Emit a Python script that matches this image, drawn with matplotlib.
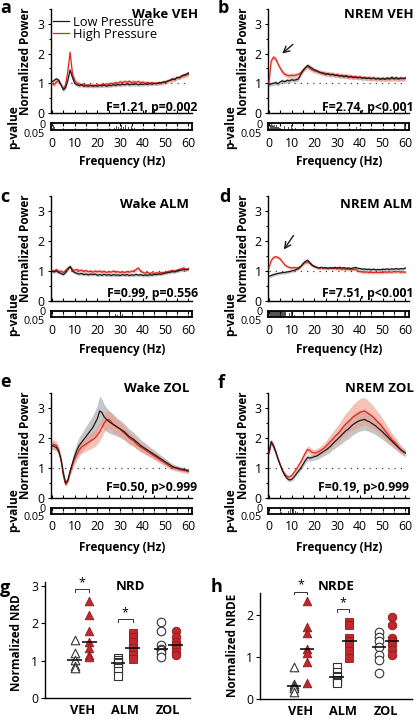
import numpy as np
import matplotlib
matplotlib.use("Agg")
import matplotlib.pyplot as plt

plt.rcParams['font.family'] = ['Open Sans', 'DejaVu Sans']

# ---------------- data ----------------
freq = list(range(61))

wake_veh_low = [1.05,1.10,1.15,1.10,0.95,0.78,0.85,1.10,1.45,1.20,1.00,0.95,0.92,0.95,0.90,0.92,0.90,0.93,0.90,0.92,
                0.90,0.93,0.91,0.94,0.90,0.93,0.92,0.95,0.93,0.96,0.94,0.97,0.95,0.98,0.95,0.97,0.96,0.98,0.95,0.97,
                0.96,0.98,0.96,0.99,0.97,1.00,0.98,1.02,1.00,1.05,1.03,1.08,1.10,1.15,1.12,1.20,1.18,1.25,1.28,1.30,1.35]
wake_veh_high = [1.00,0.95,1.05,1.08,0.95,0.82,0.95,1.40,2.05,1.35,1.10,1.00,0.98,0.95,0.97,0.93,0.95,0.92,0.94,0.92,
                 0.95,0.93,0.96,0.95,0.98,0.96,1.00,0.98,1.02,1.00,1.05,1.02,1.06,1.03,1.07,1.02,1.05,1.03,1.06,1.02,
                 1.04,1.00,1.03,1.00,1.02,0.99,1.01,1.00,1.02,1.03,1.05,1.08,1.10,1.12,1.15,1.18,1.20,1.22,1.25,1.27,1.30]
nrem_veh_low = [0.95,0.98,1.00,1.02,0.98,1.05,1.08,1.05,1.10,1.08,1.12,1.10,1.12,1.15,1.30,1.42,1.52,1.60,1.55,1.50,
                1.45,1.42,1.38,1.35,1.33,1.30,1.32,1.28,1.30,1.26,1.27,1.24,1.25,1.22,1.24,1.20,1.22,1.19,1.21,1.18,
                1.20,1.17,1.19,1.16,1.18,1.15,1.18,1.14,1.17,1.13,1.17,1.14,1.18,1.15,1.20,1.16,1.19,1.15,1.18,1.16,1.18]
nrem_veh_high = [1.00,1.75,1.88,1.82,1.65,1.50,1.38,1.30,1.27,1.25,1.27,1.26,1.28,1.30,1.35,1.45,1.52,1.57,1.50,1.45,
                 1.42,1.40,1.38,1.36,1.35,1.33,1.32,1.30,1.31,1.28,1.29,1.26,1.27,1.25,1.26,1.23,1.24,1.21,1.22,1.20,
                 1.21,1.18,1.19,1.17,1.18,1.16,1.17,1.15,1.16,1.14,1.15,1.13,1.15,1.14,1.16,1.14,1.15,1.14,1.16,1.15,1.16]
wake_alm_low = [1.00,0.97,1.00,0.95,0.92,0.88,0.95,1.05,1.15,1.00,0.95,0.92,0.90,0.92,0.88,0.90,0.87,0.90,0.88,0.90,
                0.86,0.88,0.86,0.89,0.86,0.88,0.85,0.88,0.86,0.87,0.85,0.88,0.86,0.88,0.85,0.87,0.86,0.89,0.86,0.88,
                0.85,0.87,0.85,0.88,0.86,0.89,0.88,0.90,0.89,0.92,0.93,0.95,0.96,0.98,0.97,1.00,1.02,1.03,1.05,1.04,1.06]
wake_alm_high = [1.02,1.00,1.05,0.98,1.00,0.95,1.02,1.10,1.15,1.05,1.02,1.05,1.00,1.03,0.98,1.02,0.97,1.00,0.96,1.00,
                 0.97,1.00,0.96,0.99,0.95,0.98,0.96,1.00,0.96,0.98,0.95,0.97,0.95,0.98,0.96,0.99,1.00,1.05,1.10,1.00,
                 0.95,0.93,0.95,0.92,0.94,0.92,0.94,0.93,0.95,0.94,0.96,0.98,1.00,1.02,1.00,1.03,1.05,1.08,1.10,1.05,1.08]
nrem_alm_low = [0.82,0.85,0.88,0.90,0.92,0.93,0.95,0.95,0.97,0.98,1.00,1.02,1.05,1.08,1.15,1.25,1.32,1.36,1.28,1.20,
                1.15,1.12,1.10,1.12,1.10,1.11,1.09,1.11,1.10,1.12,1.10,1.12,1.10,1.11,1.09,1.10,1.08,1.10,1.12,1.09,
                1.08,1.06,1.07,1.05,1.06,1.04,1.06,1.04,1.05,1.04,1.06,1.05,1.07,1.05,1.07,1.06,1.08,1.06,1.08,1.07,1.10]
nrem_alm_high = [1.10,1.35,1.45,1.48,1.45,1.40,1.30,1.20,1.15,1.12,1.10,1.12,1.10,1.12,1.15,1.22,1.28,1.30,1.25,1.18,
                 1.15,1.12,1.10,1.11,1.09,1.10,1.08,1.10,1.08,1.09,1.07,1.08,1.06,1.07,1.05,1.06,1.04,1.05,1.06,1.00,
                 0.98,0.97,0.96,0.97,0.95,0.96,0.95,0.96,0.95,0.96,0.95,0.97,0.96,0.97,0.96,0.98,0.97,0.98,0.96,0.97,0.96]
wake_zol_low = [1.75,1.72,1.68,1.55,1.30,0.85,0.50,0.60,0.90,1.15,1.40,1.60,1.75,1.85,1.95,2.05,2.15,2.25,2.35,2.50,
                2.65,2.90,2.85,2.70,2.62,2.55,2.50,2.45,2.40,2.35,2.30,2.25,2.20,2.12,2.05,2.00,1.95,1.88,1.82,1.75,
                1.70,1.65,1.60,1.55,1.50,1.45,1.40,1.35,1.30,1.25,1.20,1.15,1.10,1.05,1.02,1.00,0.98,0.96,0.95,0.93,0.92]
wake_zol_high = [1.80,1.78,1.75,1.60,1.25,0.75,0.45,0.55,0.85,1.10,1.30,1.45,1.60,1.70,1.75,1.80,1.85,1.90,1.95,2.00,
                 2.10,2.20,2.35,2.50,2.60,2.62,2.55,2.45,2.40,2.35,2.30,2.22,2.15,2.08,2.00,1.95,1.90,1.82,1.75,1.70,
                 1.65,1.60,1.55,1.50,1.45,1.40,1.35,1.30,1.25,1.20,1.15,1.10,1.05,1.02,1.00,0.98,0.95,0.93,0.92,0.90,0.88]
nrem_zol_low = [1.50,1.88,1.75,1.55,1.30,1.10,0.90,0.75,0.65,0.60,0.62,0.70,0.80,0.90,1.00,1.12,1.25,1.35,1.33,1.35,
                1.38,1.40,1.45,1.50,1.55,1.60,1.65,1.72,1.80,1.88,1.95,2.02,2.10,2.18,2.25,2.30,2.38,2.45,2.50,2.55,
                2.58,2.60,2.62,2.58,2.55,2.50,2.45,2.40,2.33,2.27,2.20,2.12,2.05,1.97,1.90,1.82,1.75,1.68,1.60,1.55,1.50]
nrem_zol_high = [1.50,1.85,1.72,1.52,1.30,1.10,0.92,0.80,0.72,0.70,0.75,0.85,0.95,1.08,1.20,1.35,1.50,1.62,1.58,1.52,
                 1.50,1.52,1.55,1.60,1.65,1.72,1.80,1.88,1.96,2.05,2.12,2.20,2.30,2.40,2.48,2.55,2.62,2.70,2.75,2.80,
                 2.85,2.88,2.90,2.85,2.80,2.75,2.68,2.60,2.52,2.45,2.35,2.25,2.15,2.05,1.95,1.88,1.80,1.70,1.62,1.55,1.50]

# SEM (scalar where the band is uniform)
sem_wake_veh = (0.06, 0.07)
sem_nrem_veh = (0.07, 0.08)
sem_wake_alm = (0.05, 0.06)
sem_nrem_alm = (0.05, 0.05)
sem_wake_zol_low = [0.12,0.12,0.12,0.12,0.12,0.10,0.08,0.08,0.12,0.18,0.22,0.25,0.28,0.30,0.32,
                    0.34,0.36,0.38,0.40,0.42,0.45,0.50,0.45,0.42,0.40,0.38,
                    0.36,0.34,0.32,0.30,0.29,0.28,0.27,0.26,0.25,0.24,0.23,0.22,0.21,0.20,0.19,
                    0.18,0.17,0.16,0.15,0.15,0.14,0.13,0.12,0.12,0.11,0.10,0.10,0.09,0.09,0.08,0.08,0.08,0.07,0.07,0.07]
sem_wake_zol_high = [0.15,0.15,0.15,0.14,0.12,0.10,0.08,0.08,0.10,0.14,0.16,0.18,0.20,0.22,0.22,
                     0.24,0.25,0.26,0.27,0.28,0.30,0.30,0.30,0.30,0.30,0.30,
                     0.28,0.27,0.26,0.25,0.24,0.23,0.22,0.21,0.20,0.19,0.18,0.17,0.16,0.16,0.15,
                     0.15,0.14,0.14,0.13,0.13,0.12,0.12,0.11,0.11,0.10,0.10,0.10,0.09,0.09,0.09,0.08,0.08,0.08,0.08,0.08]
sem_nrem_zol_low = [0.08,0.10,0.10,0.08,0.07,0.06,0.06,0.06,0.06,0.06,0.06,0.07,0.07,0.08,0.08,
                    0.09,0.10,0.10,0.10,0.10,0.11,0.12,0.13,0.14,0.15,0.16,0.17,0.18,0.20,0.22,
                    0.24,0.26,0.28,0.30,0.31,0.32,0.33,0.34,0.35,0.35,0.35,0.35,0.35,0.34,0.33,
                    0.32,0.30,0.29,0.28,0.26,0.25,0.23,0.22,0.20,0.18,0.17,0.15,0.14,0.13,0.12,0.11]
sem_nrem_zol_high = [0.10,0.10,0.10,0.08,0.07,0.06,0.06,0.06,0.06,0.06,0.07,0.07,0.08,0.08,0.09,
                     0.10,0.11,0.12,0.12,0.12,0.12,0.13,0.14,0.15,0.16,0.18,0.20,0.22,0.24,0.26,
                     0.28,0.30,0.32,0.34,0.36,0.38,0.40,0.42,0.44,0.45,0.46,0.46,0.45,0.44,0.42,
                     0.40,0.38,0.36,0.34,0.32,0.30,0.28,0.26,0.24,0.22,0.20,0.18,0.16,0.14,0.13,0.12]

# p-value strips (frequency, p) for significant bins
p_wake_veh_f = [0.8, 1.2, 27.5, 28.5, 29.2, 30.5, 31.5, 32.3, 33.5, 35.0, 36.2, 54.5]
p_wake_veh_p = [0.010, 0.030, 0.035, 0.020, 0.030, 0.010, 0.025, 0.015, 0.030, 0.020, 0.035, 0.040]
p_nrem_veh_f = [0.5, 1.0, 1.5, 2.0, 2.5, 3.0, 3.5, 4.0, 4.5, 7.0, 8.5, 10.0, 11.5, 38.5, 55.0, 59.5, 60.0]
p_nrem_veh_p = [0.015, 0.005, 0.010, 0.020, 0.008, 0.030, 0.015, 0.025, 0.035, 0.020, 0.030, 0.010, 0.035, 0.030, 0.040, 0.002, 0.002]
p_wake_alm_f = [24.5, 25.5, 26.5, 28.0, 29.0, 30.0, 31.0, 32.5, 34.0]
p_wake_alm_p = [0.040, 0.030, 0.035, 0.020, 0.030, 0.015, 0.025, 0.035, 0.040]
p_nrem_alm_f = [0.0, 0.5, 1.0, 1.5, 2.0, 2.5, 3.0, 3.5, 4.0, 4.5, 5.0, 5.5, 6.0, 6.5, 7.0, 7.5,
                9.0, 9.8, 10.5, 11.3, 39.0, 47.5, 49.0, 50.5, 59.5, 60.0]
p_nrem_alm_p = [0.002, 0.001, 0.001, 0.001, 0.001, 0.001, 0.001, 0.001, 0.001, 0.001, 0.001, 0.001, 0.002, 0.003, 0.004, 0.010,
                0.015, 0.010, 0.020, 0.030, 0.010, 0.040, 0.035, 0.040, 0.002, 0.002]
p_wake_zol_f = []
p_wake_zol_p = []
p_nrem_zol_f = [5.6, 8.8, 9.5, 10.2, 11.0, 11.8, 12.6]
p_nrem_zol_p = [0.040, 0.030, 0.015, 0.025, 0.010, 0.030, 0.040]

titles = ["Wake VEH", "NREM VEH", "Wake ALM", "NREM ALM", "Wake ZOL", "NREM ZOL"]
stats = ["F=1.21, p=0.002", "F=2.74, p<0.001", "F=0.99, p=0.556",
         "F=7.51, p<0.001", "F=0.50, p>0.999", "F=0.19, p>0.999"]
letters = ["a", "b", "c", "d", "e", "f"]

# Scatter panels
groups = ["VEH", "ALM", "ZOL"]
markers = ["^", "s", "o"]
nrd_low = [[1.54, 1.20, 1.02, 0.85, 0.80],
           [1.07, 1.02, 0.95, 0.93, 0.80, 0.71, 0.58],
           [2.04, 1.78, 1.42, 1.32, 1.29, 1.20, 1.10]]
nrd_high = [[2.60, 2.22, 1.78, 1.50, 1.33, 1.15, 1.10],
            [1.73, 1.64, 1.50, 1.33, 1.24, 1.15, 1.05],
            [1.80, 1.64, 1.50, 1.41, 1.33, 1.24, 1.15]]
nrde_low = [[0.75, 0.35, 0.32, 0.25, 0.17],
            [0.77, 0.65, 0.55, 0.52, 0.45, 0.40, 0.37],
            [1.60, 1.48, 1.37, 1.24, 1.05, 0.93, 0.61]]
nrde_high = [[2.32, 1.72, 1.56, 1.20, 1.09, 0.89, 0.37],
             [1.84, 1.76, 1.44, 1.37, 1.29, 1.13, 0.97],
             [1.96, 1.76, 1.44, 1.38, 1.29, 1.17, 1.05]]
nrd_sig = [2.90, 2.10, None]
nrde_sig = [2.55, 2.13, None]

# ---------------- layout ----------------
W, H = 417, 719
fig = plt.figure(figsize=(W / 100, H / 100), dpi=100)

def rect(l, t, r, b):
    return [l / W, 1 - b / H, (r - l) / W, (b - t) / H]

def fx(px):
    return px / W

def fy(py):
    return 1 - py / H

BLACK = '#1a1a1a'
RED = '#e0261d'
TICK = 8.8
STRIPLAB = 7.8

rows = [(9, 113, 123.5, 130, 143, 162, 14, 107),
        (196, 301, 311, 317.5, 329, 349, 204, 293),
        (393, 498, 507.5, 513.5, 526, 547, 388, 488)]
cols = [(51, 192), (268, 409)]
title_right = [[198, 414], [189, 413], [189, 414]]
stats_right = [[197, 414], [198, 413], [197, 409]]
letter_pos = [[(0, 8), (218, 8)], [(0, 197), (219, 197)], [(0, 382), (218, 383)]]

series = [(wake_veh_low, wake_veh_high, sem_wake_veh[0], sem_wake_veh[1], p_wake_veh_f, p_wake_veh_p),
          (nrem_veh_low, nrem_veh_high, sem_nrem_veh[0], sem_nrem_veh[1], p_nrem_veh_f, p_nrem_veh_p),
          (wake_alm_low, wake_alm_high, sem_wake_alm[0], sem_wake_alm[1], p_wake_alm_f, p_wake_alm_p),
          (nrem_alm_low, nrem_alm_high, sem_nrem_alm[0], sem_nrem_alm[1], p_nrem_alm_f, p_nrem_alm_p),
          (wake_zol_low, wake_zol_high, sem_wake_zol_low, sem_wake_zol_high, p_wake_zol_f, p_wake_zol_p),
          (nrem_zol_low, nrem_zol_high, sem_nrem_zol_low, sem_nrem_zol_high, p_nrem_zol_f, p_nrem_zol_p)]

f_arr = np.array(freq)
for i, (low, high, sl, sh, pf, pp) in enumerate(series):
    r, c = divmod(i, 2)
    st, sb, pt, pb, tly, xly, tty, sty = rows[r]
    cl, cr = cols[c]
    low = np.array(low); high = np.array(high)
    sl = np.array(sl); sh = np.array(sh)

    ax = fig.add_axes(rect(cl, st, cr, sb))
    ax.fill_between(f_arr, low - sl, low + sl, color='#a8a8a8', alpha=0.65, lw=0, zorder=1)
    ax.fill_between(f_arr, high - sh, high + sh, color='#f19a88', alpha=0.6, lw=0, zorder=1)
    ax.hlines(1, f_arr[0], f_arr[-1], colors='#444444', linestyles=(0, (1, 4)), lw=0.9, zorder=2)
    lh, = ax.plot(f_arr, high, color=RED, lw=0.9, zorder=3)
    ll, = ax.plot(f_arr, low, color=BLACK, lw=0.9, zorder=4)
    ax.set_xlim(-0.4, 61.6)
    ax.set_ylim(0, 3.5)
    for s in ['top', 'right']:
        ax.spines[s].set_visible(False)
    for s in ['left', 'bottom']:
        ax.spines[s].set_linewidth(1.0)
    ax.set_yticks([0, 1, 2, 3])
    ax.set_yticks([0.5, 1.5, 2.5, 3.5], minor=True)
    ax.set_xticks(np.arange(0, 61, 5))
    ax.set_xticklabels([])
    ax.tick_params(axis='x', direction='in', length=2, width=0.8)
    ax.tick_params(axis='y', which='major', direction='out', length=2.5, width=0.8, labelsize=TICK, pad=2)
    ax.tick_params(axis='y', which='minor', direction='out', length=1.5, width=0.8)

    if i == 0:
        ax.legend([ll, lh], ["Low Pressure", "High Pressure"], loc='upper left',
                  bbox_to_anchor=(fx(53), fy(16)), bbox_transform=fig.transFigure,
                  frameon=False, fontsize=9.3, handlelength=1.2, handletextpad=0.35,
                  labelspacing=-0.1, borderpad=0, borderaxespad=0)
    if i == 1:
        ax.annotate('', xy=(4.9, 1.94), xytext=(11.5, 2.37),
                    arrowprops=dict(arrowstyle='->', lw=1.0, color=BLACK, mutation_scale=11))
    if i == 3:
        ax.annotate('', xy=(5.9, 1.64), xytext=(11.5, 2.26),
                    arrowprops=dict(arrowstyle='->', lw=1.0, color=BLACK, mutation_scale=11))

    # p-value strip
    sx = fig.add_axes(rect(cl, pt, cr, pb))
    if len(pf):
        pfa = np.array(pf); ppa = np.array(pp)
        sx.bar(pfa, 0.05 - ppa, bottom=ppa, width=0.45, color='#555555', lw=0)
    sx.set_xlim(-0.4, 61.6)
    sx.set_ylim(0.05, 0)
    for s in sx.spines.values():
        s.set_linewidth(1.3)
    sx.set_yticks([])
    sx.set_xticks(np.arange(0, 61, 10))
    sx.set_xticks(np.arange(0, 61, 5), minor=True)
    sx.tick_params(axis='x', which='both', direction='in', length=1.8, width=0.8,
                   top=True, labelsize=TICK, pad=5)
    sx.set_xticklabels([str(v) for v in range(0, 61, 10)])

    fig.text(fx(cl - 5), fy(pt + 1.5), "0", ha='right', va='center', fontsize=STRIPLAB)
    fig.text(fx(cl - 6), fy(pb + 4.5), "0.05", ha='right', va='center', fontsize=STRIPLAB)

    fig.text(fx((cl + cr) / 2 + 1), fy(xly), "Frequency (Hz)", ha='center', va='center',
             fontsize=8.5, fontweight='bold')
    fig.text(fx(cl - 25), fy((st + sb) / 2), "Normalized Power", ha='center', va='center',
             rotation=90, fontsize=8.5, fontweight='bold')
    fig.text(fx(cl - 37), fy((pt + pb) / 2), "p-value", ha='center', va='center',
             rotation=90, fontsize=8.6, fontweight='bold')
    fig.text(fx(title_right[r][c]), fy(tty), titles[i], ha='right', va='center',
             fontsize=9.5, fontweight='bold')
    fig.text(fx(stats_right[r][c]), fy(sty), stats[i], ha='right', va='center',
             fontsize=8.8, fontweight='bold')
    lx, ly = letter_pos[r][c]
    fig.text(fx(lx), fy(ly), letters[i], ha='left', va='center', fontsize=13, fontweight='bold')

# ---------------- scatter panels ----------------
g = fig.add_axes(rect(45, 582, 190, 698))
h = fig.add_axes(rect(260, 593, 412, 699))
for ax, low, high, sig, ylim, yt, xl, off in [(g, nrd_low, nrd_high, nrd_sig, (0, 3.1), [0, 1, 2, 3], (0.14, 3.5), 0.17),
                                              (h, nrde_low, nrde_high, nrde_sig, (0, 2.52), [0, 1, 2], (0.05, 3.62), 0.15)]:
    for k in range(3):
        xc = k + 1
        lo = np.array(low[k]); hi = np.array(high[k])
        ax.scatter(np.full(len(lo), xc - off), lo, marker=markers[k], s=38,
                   facecolor='white', edgecolor='#333333', linewidth=0.8, zorder=3, clip_on=False)
        ax.scatter(np.full(len(hi), xc + off), hi, marker=markers[k], s=38,
                   facecolor='#c1272d', edgecolor='#8e1b1b', linewidth=0.6, zorder=3, clip_on=False)
        ax.hlines(np.median(lo), xc - off - 0.17, xc - off + 0.17, colors='black', lw=1.1, zorder=4)
        ax.hlines(np.median(hi), xc + off - 0.17, xc + off + 0.17, colors='black', lw=1.1, zorder=4)
        if sig[k] is not None:
            yb = sig[k]
            ax.plot([xc - off, xc - off, xc + off, xc + off], [yb - 0.06, yb, yb, yb - 0.06],
                    color='#333333', lw=0.7, clip_on=False)
            ax.text(xc, yb + 0.01, "*", ha='center', va='bottom', fontsize=9)
    ax.set_xlim(*xl)
    ax.set_ylim(*ylim)
    ax.set_yticks(yt)
    ax.set_xticks([1, 2, 3])
    ax.set_xticklabels(groups, fontweight='bold', fontsize=9.2)
    ax.tick_params(axis='x', length=0, pad=4)
    ax.tick_params(axis='y', length=3, width=0.8, labelsize=TICK, pad=2)
    for s in ['top', 'right']:
        ax.spines[s].set_visible(False)
    for s in ['left', 'bottom']:
        ax.spines[s].set_linewidth(1.0)

fig.text(fx(130), fy(587), "NRD", ha='center', va='center', fontsize=9.5, fontweight='bold')
fig.text(fx(336), fy(587), "NRDE", ha='center', va='center', fontsize=9.5, fontweight='bold')
fig.text(fx(17), fy(643), "Normalized NRD", ha='center', va='center', rotation=90,
         fontsize=8.5, fontweight='bold')
fig.text(fx(233), fy(645), "Normalized NRDE", ha='center', va='center', rotation=90,
         fontsize=8.5, fontweight='bold')
fig.text(fx(0), fy(588), "g", ha='left', va='center', fontsize=13, fontweight='bold')
fig.text(fx(211), fy(587), "h", ha='left', va='center', fontsize=13, fontweight='bold')

fig.savefig("out.png", dpi=100)
